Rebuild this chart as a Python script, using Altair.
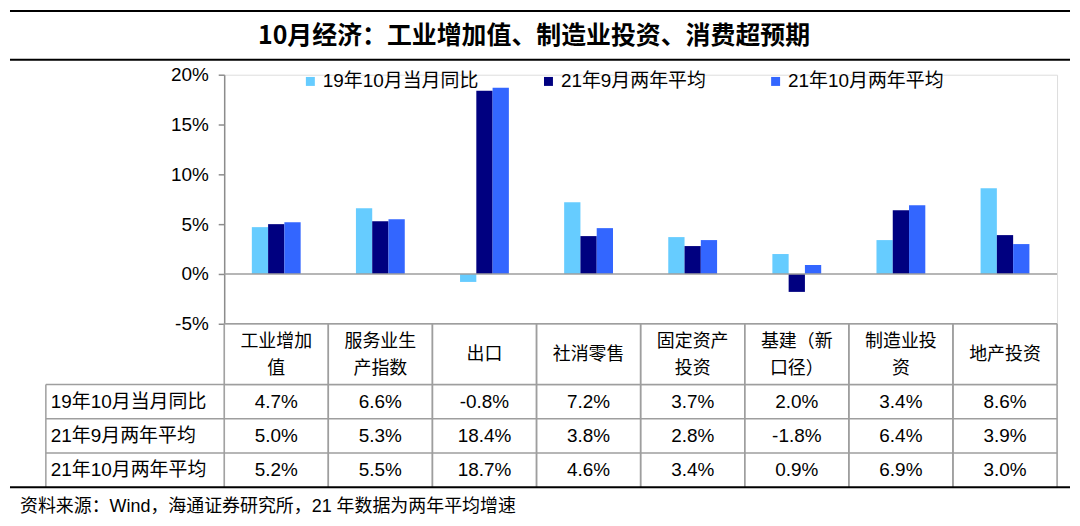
import altair as alt
import pandas as pd

categories = ["工业增加值", "服务业生产指数", "出口", "社消零售", "固定资产投资", "基建（新口径）", "制造业投资", "地产投资"]
header_labels = ["工业增加\n值", "服务业生\n产指数", "出口", "社消零售", "固定资产\n投资", "基建（新\n口径）", "制造业投\n资", "地产投资"]
series_names = ["19年10月当月同比", "21年9月两年平均", "21年10月两年平均"]
values_1910 = [4.7, 6.6, -0.8, 7.2, 3.7, 2.0, 3.4, 8.6]
values_2109 = [5.0, 5.3, 18.4, 3.8, 2.8, -1.8, 6.4, 3.9]
values_2110 = [5.2, 5.5, 18.7, 4.6, 3.4, 0.9, 6.9, 3.0]
series_colors = ["#66CCFF", "#000080", "#3366FF"]
y_ticks = [-5, 0, 5, 10, 15, 20]
title_text = "10月经济：工业增加值、制造业投资、消费超预期"
source_text = "资料来源：Wind，海通证券研究所，21 年数据为两年平均增速"

rows = []
for s, vals in zip(series_names, [values_1910, values_2109, values_2110]):
    for c, v in zip(categories, vals):
        rows.append({"cat": c, "series": s, "value": v, "label": f"{v:.1f}%"})
df = pd.DataFrame(rows)
cat_df = pd.DataFrame({"cat": categories, "hdr": header_labels})
row_df = pd.DataFrame({"series": series_names})
one = pd.DataFrame({"k": [0]})

W, H_PLOT, H_HDR, H_BODY = 836, 250, 61, 103
LEFT = 215
RIGHT = 849
GRID = "#9E9E9E"
FONT = "Liberation Sans, Noto Sans CJK SC"
CJK = "Noto Sans CJK SC"
BAR_PAD = 0.531

x_scale = alt.Scale(type="band", domain=categories, paddingInner=0, paddingOuter=0)
y_row_scale = alt.Scale(type="band", domain=series_names, paddingInner=0, paddingOuter=0)


def xcat(bp=None):
    if bp is None:
        return alt.X("cat:N", sort=categories, scale=x_scale, axis=None)
    return alt.X("cat:N", sort=categories, scale=x_scale, axis=None, bandPosition=bp)


def yrow(bp=None):
    if bp is None:
        return alt.Y("series:N", sort=series_names, scale=y_row_scale, axis=None)
    return alt.Y("series:N", sort=series_names, scale=y_row_scale, axis=None, bandPosition=bp)


# ---------- top: bars ----------
bars = alt.Chart(df).mark_bar().encode(
    x=alt.X("cat:N", sort=categories,
            scale=alt.Scale(domain=categories, paddingInner=BAR_PAD, paddingOuter=BAR_PAD / 2),
            axis=None),
    xOffset=alt.XOffset("series:N", sort=series_names,
                        scale=alt.Scale(domain=series_names, paddingInner=0, paddingOuter=0)),
    y=alt.Y("value:Q", scale=alt.Scale(domain=[-5, 20], nice=False),
            axis=alt.Axis(values=y_ticks, labelExpr="datum.value + '%'", title=None, grid=False,
                          domainColor="#8C8C8C", domainWidth=1.5, tickColor="#8C8C8C", tickWidth=1.5,
                          tickSize=6, labelFontSize=19, labelFont="Liberation Sans", labelColor="black",
                          labelPadding=10)),
    color=alt.Color("series:N", sort=series_names,
                    scale=alt.Scale(domain=series_names, range=series_colors),
                    legend=alt.Legend(title=None, orient="none", legendX=77, legendY=-3,
                                      direction="horizontal", symbolType="square", symbolSize=81,
                                      symbolStrokeWidth=0, labelFont=FONT, labelFontSize=19,
                                      labelColor="black", labelLimit=400, columnPadding=60,
                                      labelOffset=3)),
)

zero_rule = alt.Chart(one).mark_rule(color=GRID, strokeWidth=1.5).encode(y=alt.datum(0))

title_top = alt.Chart(one).mark_rule(color="black", strokeWidth=2).encode(
    x=alt.value(-LEFT), x2=alt.value(RIGHT), y=alt.value(-64))
title_bottom = alt.Chart(one).mark_rule(color="black", strokeWidth=2).encode(
    x=alt.value(-LEFT), x2=alt.value(RIGHT), y=alt.value(-15))
title = alt.Chart(one).mark_text(text=title_text, font=CJK, fontSize=25, fontWeight="bold",
                                 color="black", align="center", baseline="middle").encode(
    x=alt.value(311), y=alt.value(-39))

top = alt.layer(bars, zero_rule, title_top, title_bottom, title).properties(width=W, height=H_PLOT)

# ---------- header row ----------
hdr_one = alt.Chart(cat_df).transform_filter("indexof(datum.hdr, '\\n') < 0").mark_text(
    font=CJK, fontSize=18, color="black", baseline="middle").encode(
    x=xcat(), y=alt.value(31), text="hdr:N")
hdr_two = alt.Chart(cat_df).transform_filter("indexof(datum.hdr, '\\n') >= 0").mark_text(
    font=CJK, fontSize=18, lineBreak="\n", lineHeight=27, color="black", baseline="middle").encode(
    x=xcat(), y=alt.value(18), text="hdr:N")
hdr_vl = alt.Chart(cat_df).mark_rule(color=GRID, strokeWidth=1.5).encode(
    x=xcat(0), y=alt.value(0), y2=alt.value(H_HDR))
hdr_vr = alt.Chart(cat_df).mark_rule(color=GRID, strokeWidth=1.5).encode(
    x=xcat(1), y=alt.value(0), y2=alt.value(H_HDR))
hdr_top = alt.Chart(one).mark_rule(color=GRID, strokeWidth=1.5).encode(
    x=alt.value(0), x2=alt.value(W), y=alt.value(0))
header = alt.layer(hdr_vl, hdr_vr, hdr_top, hdr_one, hdr_two).properties(width=W, height=H_HDR)

# ---------- body rows ----------
vals_text = alt.Chart(df).mark_text(font="Liberation Sans", fontSize=19, color="black",
                                    baseline="middle").encode(
    x=xcat(), y=yrow(), text="label:N")
row_labels = alt.Chart(row_df).mark_text(font=FONT, fontSize=19, align="left", color="black",
                                         baseline="middle").encode(
    x=alt.value(-174), y=yrow(), text="series:N")
row_lines = alt.Chart(row_df).mark_rule(color=GRID, strokeWidth=1.5).encode(
    y=yrow(0), x=alt.value(-179), x2=alt.value(W))
body_vl = alt.Chart(cat_df).mark_rule(color=GRID, strokeWidth=1.5).encode(
    x=xcat(0), y=alt.value(0), y2=alt.value(H_BODY))
body_vr = alt.Chart(cat_df).mark_rule(color=GRID, strokeWidth=1.5).encode(
    x=xcat(1), y=alt.value(0), y2=alt.value(H_BODY))
left_border = alt.Chart(one).mark_rule(color=GRID, strokeWidth=1.5).encode(
    x=alt.value(-179), y=alt.value(0), y2=alt.value(H_BODY))
bottom_line = alt.Chart(one).mark_rule(color="black", strokeWidth=2).encode(
    x=alt.value(-LEFT), x2=alt.value(RIGHT), y=alt.value(H_BODY))
footer = alt.Chart(one).mark_text(text=source_text, font=FONT, fontSize=18, align="left",
                                  baseline="middle", color="black").encode(
    x=alt.value(-205), y=alt.value(H_BODY + 20))
body = alt.layer(row_lines, body_vl, body_vr, left_border, vals_text, row_labels,
                 bottom_line, footer).properties(width=W, height=H_BODY)

chart = alt.vconcat(top, header, body, spacing=0, bounds="flush", padding=0).resolve_scale(
    color="independent").resolve_legend(color="independent").configure_view(stroke=None).configure(
    font=FONT)

chart.save("out.html", embed_options={"renderer": "svg", "actions": False})
